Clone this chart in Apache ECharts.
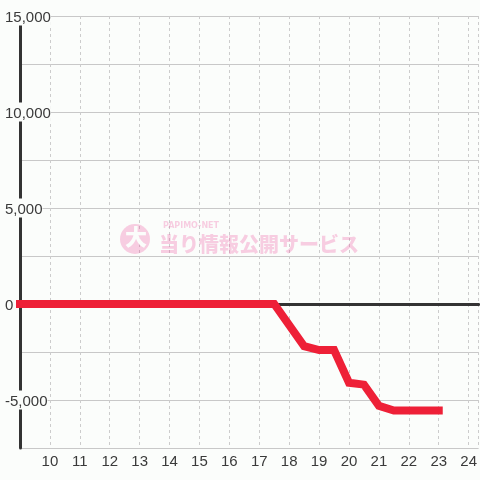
<!DOCTYPE html>
<html>
<head>
<meta charset="utf-8">
<script src="https://cdn.jsdelivr.net/npm/echarts@6/dist/echarts.min.js"></script>
<style>
html,body{margin:0;padding:0;background:#fbfdfb;}
#chart{width:480px;height:480px;}
</style>
</head>
<body>
<div id="chart"></div>
<script>
// Data
const hours = [9, 17.5, 18.5, 19, 19.5, 20, 20.5, 21, 21.5, 22, 23];
const values = [0, 0, -2200, -2400, -2400, -4100, -4200, -5300, -5550, -5550, -5550];
const xTickLabels = [10, 11, 12, 13, 14, 15, 16, 17, 18, 19, 20, 21, 22, 23, 24];
const yTickLabels = [-5000, 0, 5000, 10000, 15000];

const chart = echarts.init(document.getElementById('chart'), null, {renderer: 'canvas'});
const font = 'Liberation Sans, Arial, sans-serif';
const seriesData = hours.map((h, i) => [h, values[i]]);

chart.setOption({
  backgroundColor: '#fbfdfb',
  animation: false,
  grid: {left: 20, right: 0, top: 16, bottom: 32, containLabel: false},
  graphic: [
    {type: 'circle', left: 120, top: 224, shape: {r: 15}, style: {fill: 'rgba(236,76,154,0.27)'}, z: 1},
    {type: 'text', left: 125, top: 226, style: {text: '大', fill: '#fbfdfb', font: '900 22px "Noto Sans CJK JP"'}, z: 1},
    {type: 'text', left: 163, top: 222, style: {text: 'PAPIMO-NET', fill: 'rgba(236,76,154,0.27)', font: 'bold 8px "DejaVu Sans"'}, z: 1},
    {type: 'text', left: 159, top: 234, style: {text: '当り情報公開サービス', fill: 'rgba(236,76,154,0.27)', font: '900 20px "Noto Sans CJK JP"'}, z: 1}
  ],
  xAxis: [
    {
      type: 'value', min: 9, max: 24.3333, interval: 1,
      axisLine: {show: false, onZero: false},
      axisTick: {show: false},
      axisLabel: {
        color: '#3a3a3a', fontSize: 15, fontFamily: font, margin: 6,
        showMinLabel: false, showMaxLabel: false,
        formatter: v => xTickLabels.includes(v) ? String(v) : ''
      },
      splitLine: {show: true, lineStyle: {color: '#cccccc', type: [3, 3], width: 1}}
    },
    {
      type: 'value', min: 9, max: 24.3333, position: 'top',
      axisLine: {show: true, onZero: true, lineStyle: {color: '#333', width: 3}},
      axisTick: {show: false}, axisLabel: {show: false}, splitLine: {show: false}
    }
  ],
  yAxis: {
    type: 'value', min: -7500, max: 15000, interval: 2500,
    axisLine: {show: true, onZero: false, lineStyle: {color: '#333', width: 3}},
    axisTick: {show: false},
    axisLabel: {
      color: '#3a3a3a', fontSize: 15, fontFamily: font, align: 'left', margin: 15,
      verticalAlign: 'middle',
      formatter: v => yTickLabels.includes(v) ? '{v|' + v.toLocaleString('en-US') + '}' : '',
      rich: {
        v: {color: '#3a3a3a', fontSize: 15, fontFamily: font, lineHeight: 15,
            padding: [4, 0, 0, 0], backgroundColor: '#fbfdfb'}
      }
    },
    splitLine: {show: true, lineStyle: {color: '#c8c8c8', width: 1}}
  },
  series: [{
    type: 'line', xAxisIndex: 0, data: seriesData, showSymbol: false, clip: false,
    lineStyle: {color: '#ee2037', width: 8, cap: 'square', join: 'miter'},
    z: 3
  }]
});
</script>
</body>
</html>
